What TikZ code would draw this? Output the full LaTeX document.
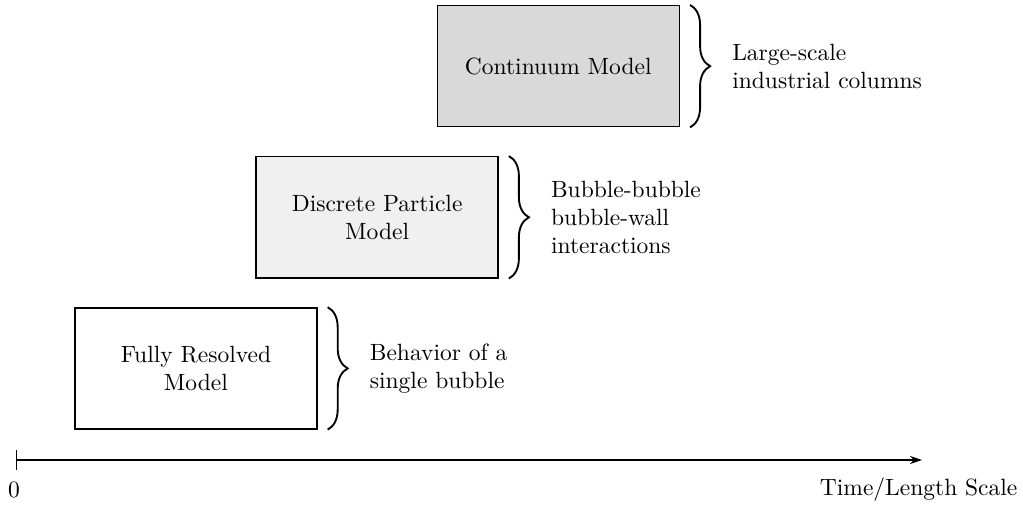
\documentclass[tikz,border=0pt]{standalone}
\usepackage{unicode-math, amsmath}
\usepackage{tikz}
\usetikzlibrary{arrows.meta, decorations.pathreplacing, positioning}

\begin{document}
\begin{tikzpicture}[
		model/.style={draw, semithick, minimum width=3.62cm, minimum height=1.81cm, align=center},
		scalebrace/.style={decorate, decoration={brace, amplitude=0.3cm}, thick},
		scope label/.style={align=left, right=0.5cm}
	]
		\useasboundingbox (-0.24,-0.66) rectangle (15.06,6.88);
		\node (resolved) at (2.69,1.37) [model] {Fully Resolved\\Model};
		\node (particle) at (5.40,3.63) [model, fill=black!6] {Discrete Particle\\Model};
		\node (continuum) at (8.11,5.89) [model, fill=black!15] {Continuum Model};
		\draw[scalebrace] ([xshift=0.15cm]resolved.north east) -- ([xshift=0.15cm]resolved.south east)
			node[midway, scope label] {Behavior of a\\single bubble};
		\draw[scalebrace] ([xshift=0.15cm]particle.north east) -- ([xshift=0.15cm]particle.south east)
			node[midway, scope label] {Bubble-bubble\\bubble-wall\\interactions};
		\draw[scalebrace] ([xshift=0.15cm]continuum.north east) -- ([xshift=0.15cm]continuum.south east)
			node[midway, scope label] {Large-scale\\industrial columns};
		\coordinate (origin) at (0,0);
		\coordinate (far) at (13.55,0);
		\draw[semithick, {Bar[width=0.3cm]}-{Stealth[length=0.18cm, width=0.12cm]}] (origin) -- (far);
		\node (zero) at (-0.03,-0.45) {0};
		\node (scale) at (15.1,-0.45) [anchor=east] {Time/Length Scale};
	\end{tikzpicture}
\end{document}
